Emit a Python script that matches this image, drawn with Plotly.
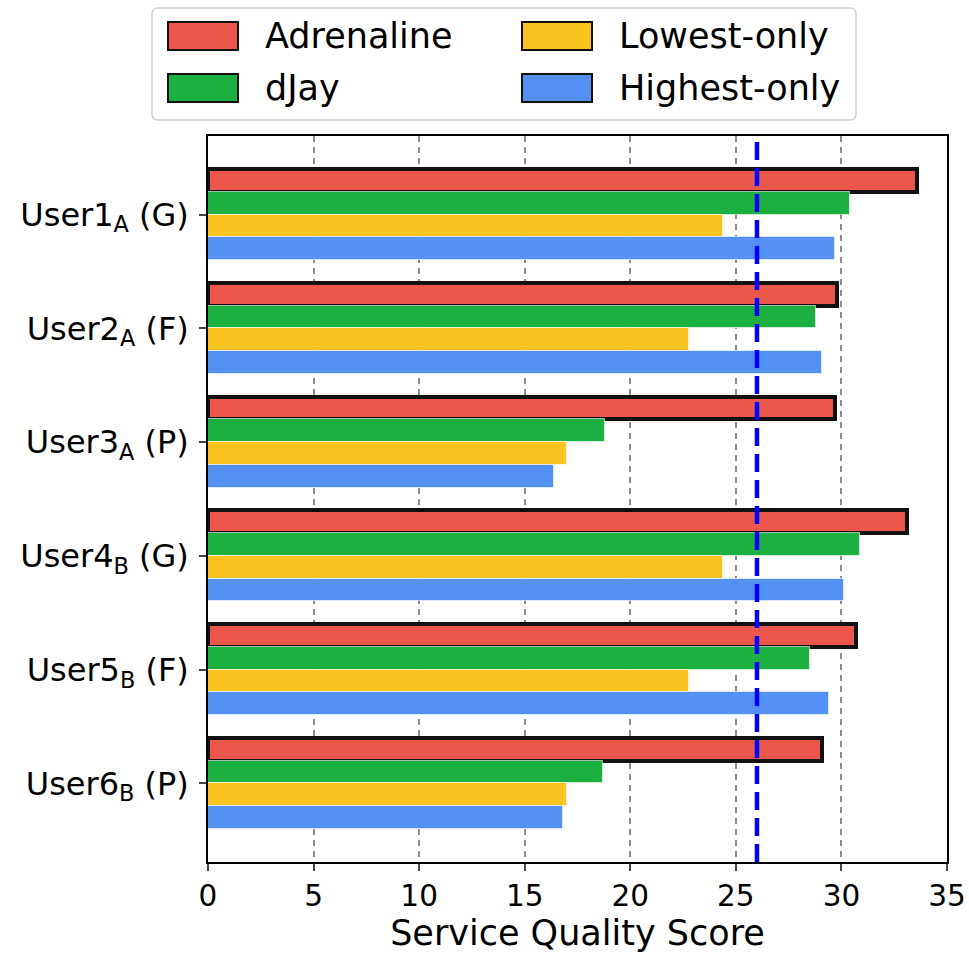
import plotly.graph_objects as go

# data
users = ["User1<sub>A</sub> (G)", "User2<sub>A</sub> (F)", "User3<sub>A</sub> (P)",
         "User4<sub>B</sub> (G)", "User5<sub>B</sub> (F)", "User6<sub>B</sub> (P)"]
series_names = ["Adrenaline", "dJay", "Lowest-only", "Highest-only"]
adrenaline = [33.6, 29.8, 29.7, 33.1, 30.7, 29.1]
djay = [30.4, 28.8, 18.8, 30.9, 28.5, 18.7]
lowest_only = [24.4, 22.8, 17.0, 24.4, 22.8, 17.0]
highest_only = [29.7, 29.1, 16.4, 30.1, 29.4, 16.8]
threshold = 26.0
x_ticks = [0, 5, 10, 15, 20, 25, 30, 35]

colors = ["#EC574B", "#1BB040", "#FBC31F", "#5591F2"]
values = [adrenaline, djay, lowest_only, highest_only]

# body margin is removed after plotting (see post_script), so figure = window
W, H = 969, 969
L, T = 208, 136
R, B = W - 947, H - 862
FONT = "DejaVu Sans"
BAR_W = 0.2


def px_x(px):
    # window pixel -> paper x
    return (px - L) / (W - L - R)


def px_y(py):
    return (H - B - py) / (H - T - B)


fig = go.Figure()
for j, (name, vals, col) in enumerate(zip(series_names, values, colors)):
    off = (j - 1.5) * BAR_W
    if j == 0:
        line = dict(color="#111111", width=4)
    else:
        line = dict(color="rgba(255,255,255,0.6)", width=1)
    fig.add_trace(go.Bar(
        x=vals, y=[i + off for i in range(len(users))], orientation="h",
        width=BAR_W, name=name, marker=dict(color=col, line=line),
        showlegend=False))

# threshold line
fig.add_shape(type="line", x0=threshold, x1=threshold, y0=0, y1=1,
              xref="x", yref="paper", layer="above",
              line=dict(color="#0000FF", width=4.5, dash="18px,8px"))

# hand-made legend in the matplotlib style
lx0, lx1, ly0, ly1 = px_x(152), px_x(856), px_y(120), px_y(8)
rx = 6 / (W - L - R)
ry = 6 / (H - T - B)
path = (f"M {lx0 + rx},{ly0} L {lx1 - rx},{ly0} Q {lx1},{ly0} {lx1},{ly0 + ry} "
        f"L {lx1},{ly1 - ry} Q {lx1},{ly1} {lx1 - rx},{ly1} "
        f"L {lx0 + rx},{ly1} Q {lx0},{ly1} {lx0},{ly1 - ry} "
        f"L {lx0},{ly0 + ry} Q {lx0},{ly0} {lx0 + rx},{ly0} Z")
fig.add_shape(type="path", path=path, xref="paper", yref="paper",
              line=dict(color="#D0D0D0", width=1.5), fillcolor="white")
sw_left = [168, 522]
row_mid = [36, 88]
for j, (name, col) in enumerate(zip(series_names, colors)):
    c, r = j // 2, j % 2
    x0 = sw_left[c]
    yc = row_mid[r]
    fig.add_shape(type="rect", xref="paper", yref="paper",
                  x0=px_x(x0), x1=px_x(x0 + 70), y0=px_y(yc + 14), y1=px_y(yc - 14),
                  fillcolor=col, line=dict(color="#111111", width=2))
    fig.add_annotation(x=px_x(x0 + 95), y=px_y(yc), xref="paper", yref="paper",
                       text=name, showarrow=False, xanchor="left", yanchor="middle",
                       font=dict(family=FONT, size=35, color="black"))

fig.update_layout(
    width=W, height=H,
    margin=dict(l=L, r=R, t=T, b=B),
    plot_bgcolor="white", paper_bgcolor="white",
    barmode="overlay", bargap=0,
    font=dict(family=FONT, size=29, color="black"),
)
fig.update_xaxes(
    range=[0, 35], tickvals=x_ticks, ticks="outside", ticklen=7, tickwidth=1.5,
    tickfont=dict(size=29.5), automargin=False,
    showline=True, linecolor="black", linewidth=1.5,
    mirror=True, showgrid=True, gridcolor="rgba(0,0,0,0.45)", gridwidth=1.5,
    griddash="6px,5px", zeroline=False, layer="above traces",
    title=dict(text="Service Quality Score", font=dict(size=35), standoff=6),
)
fig.update_yaxes(
    range=[len(users) - 0.31, -0.69], tickvals=list(range(len(users))), ticktext=users,
    ticks="outside", ticklen=7, tickwidth=1.5, tickfont=dict(size=32),
    ticklabelstandoff=4, automargin=False,
    showline=True, linecolor="black", linewidth=1.5, mirror=True,
    showgrid=False, zeroline=False,
)

fig.write_html("out.html", config={"displayModeBar": False},
               post_script="document.body.style.margin='0';"
                           "document.body.style.overflow='hidden';")
